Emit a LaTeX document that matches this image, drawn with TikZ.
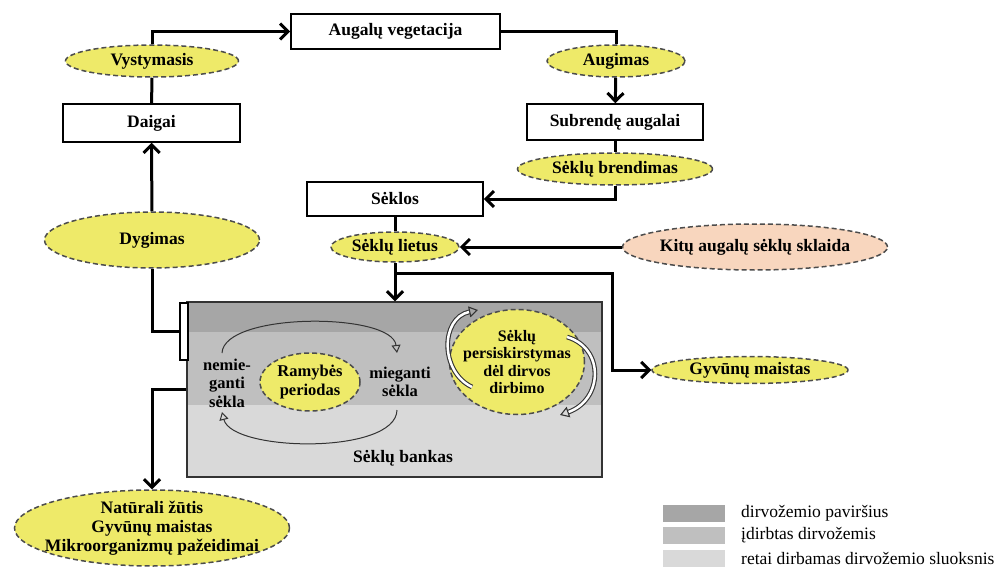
\documentclass[tikz,border=0pt]{standalone}
\usepackage{fontspec}
\setmainfont{Liberation Serif}
\usetikzlibrary{shapes.geometric,arrows.meta}
\definecolor{seedyellow}{RGB}{238,234,105}
\definecolor{seedpeach}{RGB}{248,214,190}
\definecolor{soiltop}{RGB}{166,166,166}
\definecolor{soilmid}{RGB}{191,191,191}
\definecolor{soillow}{RGB}{217,217,217}

\begin{document}
\begin{tikzpicture}[x=1pt,y=-1pt,
    every node/.style={font=\fontsize{17.5}{19}\selectfont\bfseries, align=center, inner sep=0pt},
    box/.style={draw, line width=1.6pt, fill=white},
    phase/.style={ellipse, draw=black!70, fill=seedyellow, line width=1.5pt, dash pattern=on 5pt off 3pt, inner sep=-8pt},
    link/.style={line width=3pt},
    arr/.style={link, -{Straight Barb[length=8pt,width=16pt]}},
    cyc/.style={line width=1pt, black!80, -{Triangle[open,length=8pt,width=9pt]}},
    swirl/.style={draw=black!80, line width=1.1pt, double=white, double distance=2.5pt, -{Triangle[open,length=9pt,width=11pt]}}]
    \useasboundingbox (0,0) rectangle (1001,567);
    % augalo ciklas
    \node[box, minimum width=209, minimum height=35] (veg) at (395.5,31.5) {Augalų vegetacija};
    \node[phase, minimum width=173, minimum height=32] (vyst) at (152,61) {Vystymasis};
    \node[box, minimum width=177, minimum height=38] (daigai) at (151.5,123) {Daigai};
    \node[phase, minimum width=138, minimum height=32] (augimas) at (616,61) {Augimas};
    \node[box, minimum width=176, minimum height=36] (subr) at (615,122) {Subrendę augalai};
    \node[phase, minimum width=195, minimum height=32] (brend) at (615,169) {Sėklų brendimas};
    \node[box, minimum width=176, minimum height=34] (seklos) at (395,199) {Sėklos};
    \node[phase, minimum width=128, minimum height=30] (lietus) at (395,247) {Sėklų lietus};
    \node[phase, fill=seedpeach, minimum width=265, minimum height=46] (kitu) at (755,247) {Kitų augalų sėklų sklaida};
    \node[phase, minimum width=215, minimum height=56] (dygimas) at (152,240) {Dygimas};
    % sėklų bankas
    \fill[soiltop] (187,302) rectangle (602,332);
    \fill[soilmid] (187,332) rectangle (602,405);
    \fill[soillow] (187,405) rectangle (602,477);
    \node[draw=black!80, line width=1.4pt, minimum width=415, minimum height=175] (bank) at (394.5,389.5) {};
    \node[draw, line width=1.4pt, fill=white, minimum width=8, minimum height=57] (tab) at (184,331.5) {};
    \node[font=\fontsize{16.5}{18.5}\selectfont\bfseries] (nemie) at (227,383) {nemie-\\ganti\\sėkla};
    \node[phase, minimum width=100, minimum height=58, font=\fontsize{16.5}{18.5}\selectfont\bfseries] (ramyb) at (310,382) {Ramybės\\periodas};
    \node[font=\fontsize{16.5}{18.5}\selectfont\bfseries] (mieg) at (400,382) {mieganti\\sėkla};
    \node[phase, minimum width=135, minimum height=105, font=\fontsize{16}{17.5}\selectfont\bfseries] (persk) at (517,362) {Sėklų\\persiskirstymas\\dėl dirvos\\dirbimo};
    \node (bankas) at (403,458) {Sėklų bankas};
    \draw[cyc] (222,353) .. controls (224,312) and (392,312) .. (397,353);
    \draw[cyc] (397,410) .. controls (396,455) and (232,452) .. (222,412);
    \draw[swirl] (472,387) .. controls (440,372) and (440,318) .. (478,310);
    \draw[swirl] (567,337) .. controls (605,348) and (603,400) .. (560,415);
    \node[phase, minimum width=196, minimum height=27] (gyvunai) at (750,370) {Gyvūnų maistas};
    \node[phase, inner xsep=-12pt, minimum width=275, minimum height=76] (zutis) at (152,528) {Natūrali žūtis\\Gyvūnų maistas\\Mikroorganizmų pažeidimai};
    % jungtys
    \coordinate (split) at (395,273);
    \coordinate (turn) at (612,273);
    \draw[arr] (vyst.north) |- (veg.west);
    \draw[link] (veg.east) -| (augimas.north);
    \draw[arr] (augimas) -- (subr);
    \draw[link] (subr) -- (brend);
    \draw[arr] (brend.south) |- (seklos.east);
    \draw[link] (seklos) -- (lietus);
    \draw[arr] (kitu) -- (lietus);
    \draw[arr] (lietus.south) -- (lietus.south |- bank.north);
    \draw[arr] (split) -- (turn) |- (gyvunai.west);
    \draw[link] (daigai) -- (vyst);
    \draw[arr] (dygimas) -- (daigai);
    \draw[link] (dygimas.south) |- (tab.west);
    \draw[arr] (bank.west) -| (zutis.north);
    % legenda
    \foreach \c/\y/\txt [count=\i] in {soiltop/513.5/dirvožemio paviršius, soilmid/535/įdirbtas dirvožemis, soillow/558.5/retai dirbamas dirvožemio sluoksnis}{
        \node[fill=\c, minimum width=62, minimum height=17] (sw\i) at (694,\y) {};
        \node[font=\fontsize{17.5}{20}\selectfont, anchor=west] (lg\i) at (741,\y) {\txt};
    }
\end{tikzpicture}
\end{document}
